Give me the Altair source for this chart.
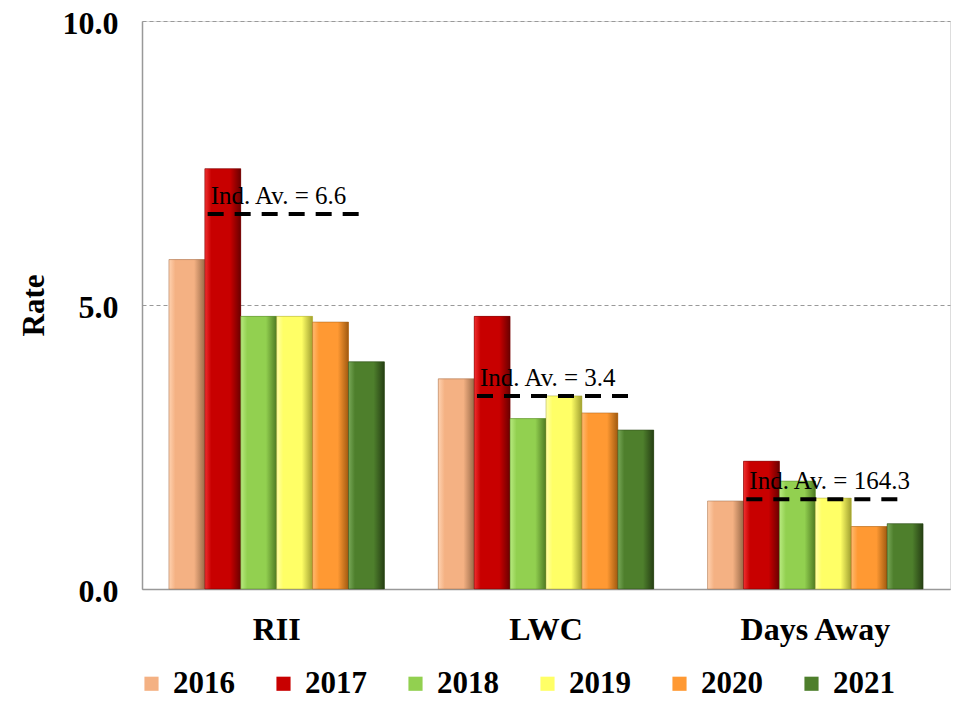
import altair as alt
import pandas as pd

categories = ["RII", "LWC", "Days Away"]
years = ["2016", "2017", "2018", "2019", "2020", "2021"]
rii = [5.8, 7.4, 4.8, 4.8, 4.7, 4.0]
lwc = [3.7, 4.8, 3.0, 3.4, 3.1, 2.8]
days_away = [1.55, 2.25, 1.9, 1.6, 1.1, 1.15]
avg_pos = [6.6, 3.4, 1.58]
avg_label = ["Ind. Av. = 6.6", "Ind. Av. = 3.4", "Ind. Av. = 164.3"]
colors = ["#F4B183", "#C80000", "#92D050", "#FFFF66", "#FF9933", "#4E7F2C"]
dark = ["#9A6A48", "#6A0000", "#4E7A22", "#A0A030", "#A05A10", "#263F14"]
light = ["#FFD2B0", "#F03030", "#B8EA80", "#FFFFA8", "#FFBA70", "#78A858"]

FONT = "Liberation Serif"

rows = []
for cat, vals in zip(categories, [rii, lwc, days_away]):
    for y, v in zip(years, vals):
        rows.append({"cat": cat, "year": y, "rate": v})
df = pd.DataFrame(rows)
avg_df = pd.DataFrame({"cat": categories, "avg": avg_pos, "label": avg_label})

x_enc = alt.X("cat:N", sort=categories,
              scale=alt.Scale(paddingInner=0.2, paddingOuter=0.1),
              axis=alt.Axis(title=None, labelFont=FONT, labelFontSize=32, labelFontWeight="bold",
                            labelColor="black", labelAngle=0, labelPadding=25, ticks=False,
                            domainColor="#999999", domainWidth=1.5, grid=False))
y_enc = alt.Y("rate:Q", scale=alt.Scale(domain=[0, 10], nice=False),
              axis=alt.Axis(title="Rate", values=[0, 5, 10], format=".1f", titleFont=FONT,
                            titleFontSize=31, titleFontWeight="bold", titleColor="black",
                            titlePadding=12, labelFont=FONT, labelFontSize=32,
                            labelFontWeight="bold", labelColor="black", labelPadding=24,
                            labelOffset=2,
                            ticks=False, domainColor="#999999", domainWidth=1.5,
                            gridColor="#999999", gridDash=[4, 3], gridWidth=1))

base = alt.Chart(df).mark_bar(stroke=None).encode(
    x=x_enc,
    xOffset=alt.XOffset("year:N", sort=years, scale=alt.Scale(paddingInner=0, paddingOuter=0)),
    y=y_enc,
    color=alt.Color("year:N", sort=years,
                    scale=alt.Scale(domain=years, range=colors),
                    legend=alt.Legend(title=None, orient="none", direction="horizontal",
                                      columns=6, legendX=-6, legendY=647,
                                      symbolType="square", symbolSize=200,
                                      symbolStrokeWidth=0, labelFont=FONT,
                                      labelFontSize=31, labelFontWeight="bold",
                                      labelColor="black", labelOffset=6,
                                      columnPadding=33)),
)

layers = [base]
for y, c, d, l in zip(years, colors, dark, light):
    grad = alt.Gradient(gradient="linear", x1=0, x2=1, y1=0, y2=0,
                        stops=[alt.GradientStop(color=l, offset=0),
                               alt.GradientStop(color=c, offset=0.18),
                               alt.GradientStop(color=c, offset=0.7),
                               alt.GradientStop(color=d, offset=1)])
    layers.append(
        alt.Chart(df).transform_filter(alt.datum.year == y).mark_bar(
            fill=grad, stroke=d, strokeWidth=0.8, strokeOpacity=0.6
        ).encode(
            x=alt.X("cat:N", sort=categories),
            xOffset=alt.XOffset("year:N", sort=years),
            y=alt.Y("rate:Q"),
        )
    )

rule = alt.Chart(avg_df).mark_rule(color="black", strokeWidth=4, strokeDash=[16, 11],
                                   xOffset=-69, x2Offset=82).encode(
    x=alt.X("cat:N", sort=categories),
    x2=alt.X2("cat"),
    y=alt.Y("avg:Q"),
)
text = alt.Chart(avg_df).mark_text(font=FONT, fontSize=25, color="black", align="left",
                                   baseline="alphabetic", dx=-66, dy=-10).encode(
    x=alt.X("cat:N", sort=categories),
    y=alt.Y("avg:Q"),
    text="label:N",
)

chart = alt.layer(*layers, rule, text).properties(
    width=808, height=568,
    autosize=alt.AutoSizeParams(type="none"),
    padding={"left": 134, "top": 13, "right": 1, "bottom": 110},
).configure_view(stroke=None).configure(background="white")

chart.save("out.html", embed_options={"renderer": "svg", "actions": False})
